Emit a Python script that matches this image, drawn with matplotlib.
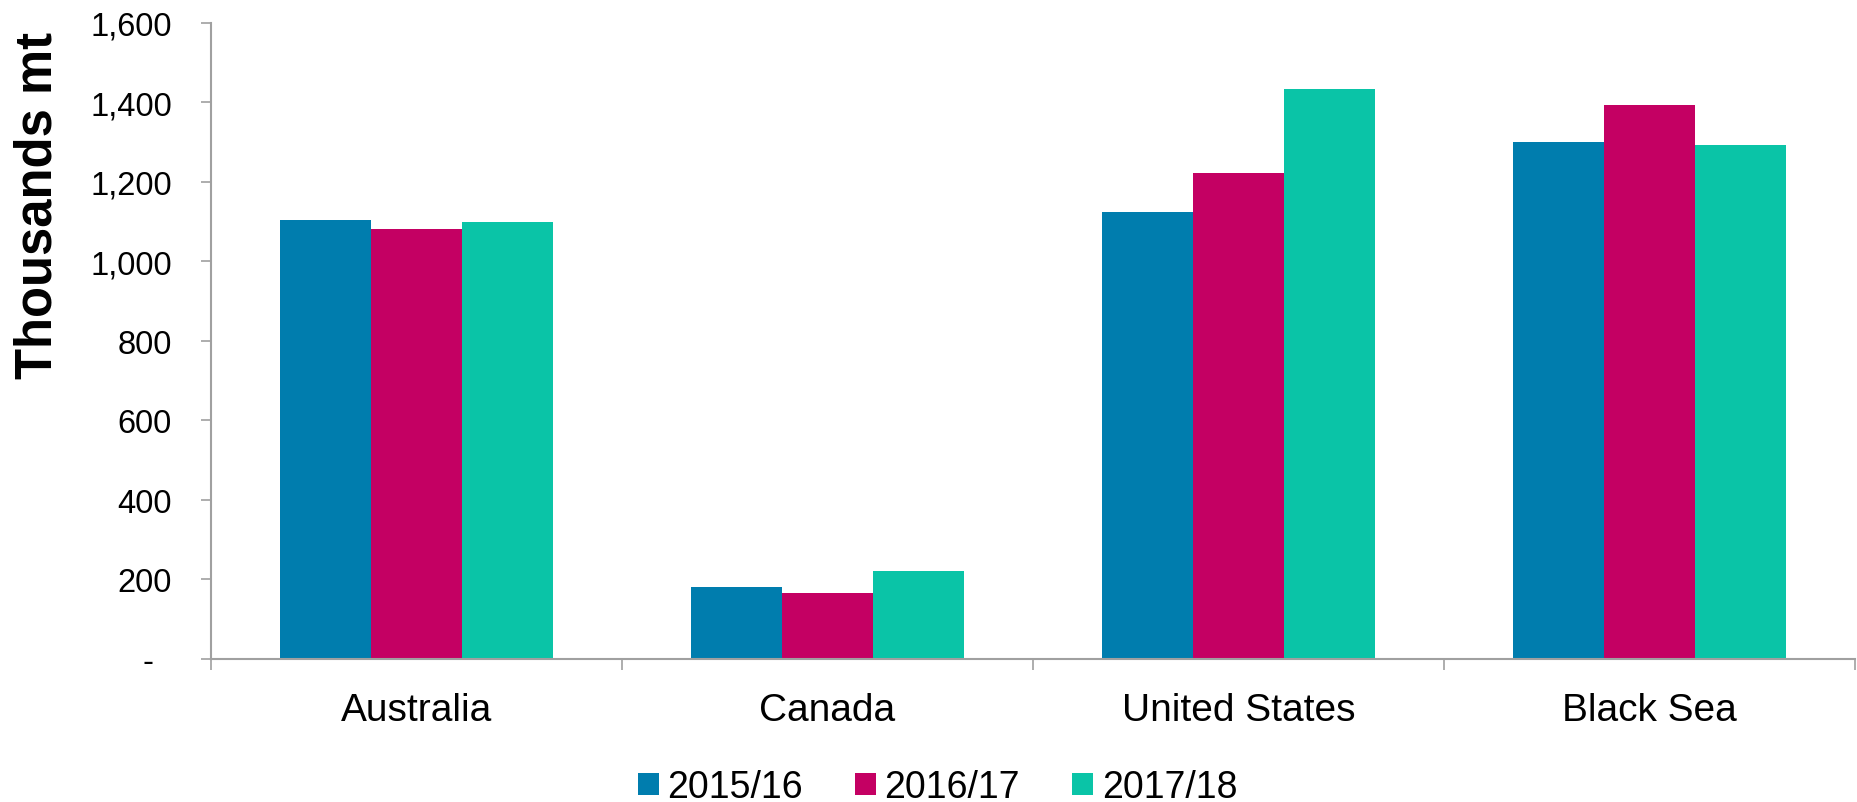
import numpy as np
import matplotlib
matplotlib.use("Agg")
import matplotlib.pyplot as plt
from matplotlib.ticker import FuncFormatter, FixedLocator

plt.rcParams['font.family'] = ['Liberation Sans', 'DejaVu Sans']

# data (thousand tonnes)
regions = ["Australia", "Canada", "United States", "Black Sea"]
years = ["2015/16", "2016/17", "2017/18"]
v_2015 = [1105, 180, 1125, 1300]
v_2016 = [1080, 165, 1221, 1393]
v_2017 = [1099, 221, 1433, 1292]
colors = ["#007DAE", "#C40063", "#0AC4A7"]

series = [v_2015, v_2016, v_2017]

fig = plt.figure(figsize=(18.58, 8.03), dpi=100)
ax = fig.add_axes([211/1858, 1 - 660/803, (1855-211)/1858, (660-23.7)/803])

x = np.arange(len(regions))
w = 0.222
for i, vals in enumerate(series):
    ax.bar(x + (i - 1) * w, vals, width=w, color=colors[i], label=years[i])

ax.set_xlim(-0.5, len(regions) - 0.5)
ax.set_ylim(0, 1600)
ax.set_yticks(np.arange(0, 1601, 200))
# excel style: zero shows as a dash
ax.yaxis.set_major_formatter(FuncFormatter(lambda v, p: "-  " if v == 0 else "{:,.0f}".format(v)))

ax.set_xticks(x)
ax.set_xticklabels(regions, fontsize=28)
ax.xaxis.set_minor_locator(FixedLocator(np.arange(-0.5, len(regions), 1.0)))
ax.tick_params(axis='x', which='major', length=0, pad=24)
ax.tick_params(axis='x', which='minor', length=8, color='#A0A0A0', width=1.2)
ax.tick_params(axis='y', length=7, color='#A0A0A0', width=1.2, labelsize=23.5, pad=21)

for s in ['top', 'right']:
    ax.spines[s].set_visible(False)
for s in ['left', 'bottom']:
    ax.spines[s].set_color('#A0A0A0')
    ax.spines[s].set_linewidth(1.5)

ax.set_ylabel("Thousands mt", fontsize=36.5, fontweight='bold')
ax.yaxis.set_label_coords(-0.0906, 0.715)

fig.legend(loc='lower center', bbox_to_anchor=(0.5046, -0.046), ncol=3, frameon=False,
           fontsize=27, handlelength=0.56, handleheight=0.56, handletextpad=0.22,
           columnspacing=1.4)

fig.savefig("out.png", dpi=100)
